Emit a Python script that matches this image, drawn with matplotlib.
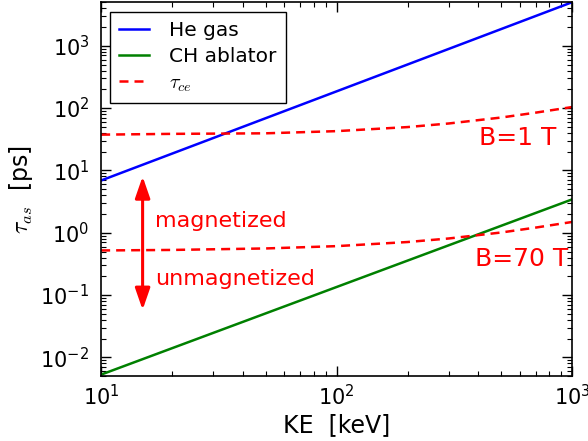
import matplotlib
matplotlib.use("Agg")
import matplotlib.pyplot as plt
import numpy as np

# Data
ke_line = [10, 1000]                 # keV
he_gas = [6.9, 5000]                 # ps
ch_ablator = [0.0053, 3.43]          # ps

ke_ce = [10, 20, 50, 100, 200, 300, 500, 700, 1000]
tau_ce_1T = [37.5, 38.6, 39.4, 42.7, 49.6, 56.7, 70.6, 84.5, 104]
tau_ce_70T = [0.52, 0.53, 0.56, 0.61, 0.71, 0.81, 1.01, 1.21, 1.49]

plt.rcParams['mathtext.fontset'] = 'cm'
plt.rcParams['axes.unicode_minus'] = False

fig = plt.figure(figsize=(5.88, 4.41), dpi=100)
ax = fig.add_axes([0.172, 0.147, 0.801, 0.848])

lw = 1.8
ax.loglog(ke_line, he_gas, color='#0000ff', lw=lw, label='He gas')
ax.loglog(ke_line, ch_ablator, color='#008000', lw=lw, label='CH ablator')
ax.loglog(ke_ce, tau_ce_1T, color='#ff0000', lw=lw, ls=(0, (3.6, 2.4)), label=r'$\tau_{ce}$')
ax.loglog(ke_ce, tau_ce_70T, color='#ff0000', lw=lw, ls=(0, (3.6, 2.4)))

ax.set_xlim(10, 1000)
ax.set_ylim(5e-3, 5e3)

ax.tick_params(which='both', direction='in', top=True, right=True, labelsize=15)
ax.tick_params(which='major', length=7, width=1)
ax.tick_params(which='minor', length=3.5, width=0.8)
for s in ax.spines.values():
    s.set_linewidth(1.2)
ax.tick_params(axis='x', pad=5.5)
ax.tick_params(axis='y', pad=8.5)

ax.set_xlabel('KE  [keV]', fontsize=17, labelpad=3)
ax.set_ylabel(r'$\tau_{as}$  [ps]', fontsize=17)

leg = ax.legend(loc='upper left', fontsize=14.5, fancybox=False, framealpha=1,
                edgecolor='black', handlelength=1.5, borderpad=0.45,
                labelspacing=0.35, borderaxespad=0, handletextpad=1.0,
                bbox_to_anchor=(0.019, 0.973))
leg.get_frame().set_linewidth(1.0)

# annotations
ax.annotate('', xy=(15, 0.058), xytext=(15, 8),
            arrowprops=dict(arrowstyle='<|-|>,head_width=0.45,head_length=1.3',
                            color='#ff0000', lw=2.2, shrinkA=0, shrinkB=0))
ax.text(17.0, 1.56, 'magnetized', color='#ff0000', fontsize=16, va='center', ha='left')
ax.text(17.0, 0.18, 'unmagnetized', color='#ff0000', fontsize=16, va='center', ha='left')
ax.text(860, 33, 'B=1 T', color='#ff0000', fontsize=18, va='center', ha='right')
ax.text(965, 0.38, 'B=70 T', color='#ff0000', fontsize=18, va='center', ha='right')

fig.savefig('out.png', dpi=100, facecolor='white')
